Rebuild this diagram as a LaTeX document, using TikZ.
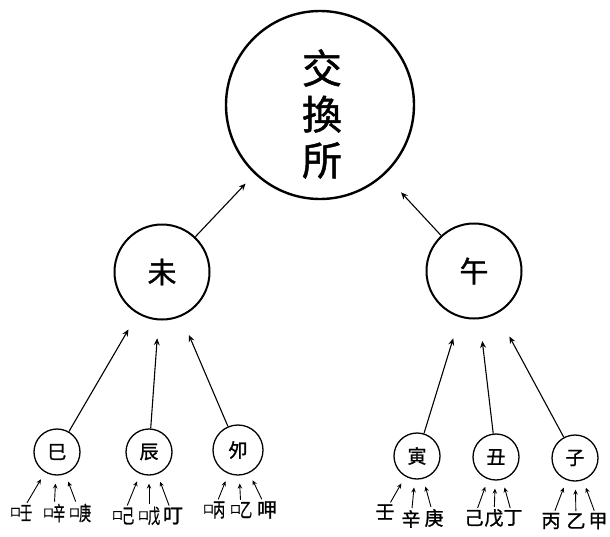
\documentclass[tikz,border=0pt]{standalone}
\usepackage{fontspec}
\usepackage{graphicx}
\newfontfamily\cjk[FakeBold=1.2]{Noto Sans CJK TC}
\usetikzlibrary{arrows.meta}
\newcommand\kouzi[1]{\mbox{\raisebox{0.2em}{\scalebox{0.55}{口}}\kern-0.04em\scalebox{0.6}[1]{#1}}}
\begin{document}
\begin{tikzpicture}[x=1pt,y=-1pt,
  bigc/.style={circle,draw,line width=2.4pt,minimum size=188pt,inner sep=0pt},
  midc/.style={circle,draw,line width=2pt,minimum size=95pt,inner sep=0pt,font=\cjk\fontsize{29}{29}\selectfont},
  smc/.style={circle,draw,line width=1.3pt,minimum size=46pt,inner sep=0pt,font=\cjk\fontsize{19}{19}\selectfont},
  lab/.style={inner sep=1pt,font=\cjk\fontsize{20}{20}\selectfont},
  rlab/.style={inner sep=1pt,font=\cjk\fontsize{19}{19}\selectfont},
  arr/.style={-{Stealth[length=7pt,width=6pt,inset=2.5pt]},line width=1.1pt},
  sarr/.style={-{Stealth[length=5pt,width=4.5pt,inset=1.8pt]},line width=0.9pt,shorten >=8pt,shorten <=1pt}]
\useasboundingbox (0,0) rectangle (610,536);
% main
\node[bigc] (big) at (320,105) {};
\node[font=\cjk\fontsize{40}{46}\selectfont,align=center] (bt) at (322,114) {交\\換\\所};
% middle
\node[midc] (wei) at (162,272) {未};
\node[midc] (wu) at (474,271) {午};
% small
\node[smc] (si) at (57,452) {巳};
\node[smc] (chen) at (149,452) {辰};
\node[smc,minimum size=50pt] (mao) at (238,450) {夘};
\node[smc] (yin) at (417,456) {寅};
\node[smc] (chou) at (496,457) {丑};
\node[smc] (zi) at (575,458) {子};
% arrows to main
\draw[arr,shorten >=13pt] (wei) -- (big);
\draw[arr,shorten >=24pt] (wu) -- (big);
% arrows to middle
\draw[arr,shorten >=18pt] (si) -- (wei);
\draw[arr,shorten >=18pt] (chen) -- (wei);
\draw[arr,shorten >=20pt] (mao) -- (wei);
\draw[arr,shorten >=22pt] (yin) -- (wu);
\draw[arr,shorten >=22pt] (chou) -- (wu);
\draw[arr,shorten >=26pt] (zi) -- (wu);
% labels left
\node[lab] (l11) at (21,513) {\kouzi{壬}};
\node[lab] (l12) at (54,513) {\kouzi{辛}};
\node[lab] (l13) at (80,513) {\kouzi{庚}};
\node[lab] (l21) at (123,516) {\kouzi{己}};
\node[lab] (l22) at (149,516) {\kouzi{戊}};
\node[lab] (l23) at (173,516) {叮};
\node[lab] (l31) at (214,510) {\kouzi{丙}};
\node[lab] (l32) at (241,510) {\kouzi{乙}};
\node[lab] (l33) at (267,510) {呷};
% labels right
\node[rlab] (r11) at (385,512) {壬};
\node[rlab] (r12) at (411,519) {辛};
\node[rlab] (r13) at (434,518) {庚};
\node[rlab] (r21) at (474,518) {己};
\node[rlab] (r22) at (494,518) {戊};
\node[rlab] (r23) at (513,518) {丁};
\node[rlab] (r31) at (551,521) {丙};
\node[rlab] (r32) at (576,521) {乙};
\node[rlab] (r33) at (598,521) {甲};
% small arrows
\foreach \a/\b in {l11/si,l12/si,l13/si,l21/chen,l22/chen,l23/chen,l31/mao,l32/mao,l33/mao,
                   r11/yin,r12/yin,r13/yin,r21/chou,r22/chou,r23/chou,r31/zi,r32/zi,r33/zi}
  \draw[sarr] (\a) -- (\b);
\end{tikzpicture}
\end{document}
